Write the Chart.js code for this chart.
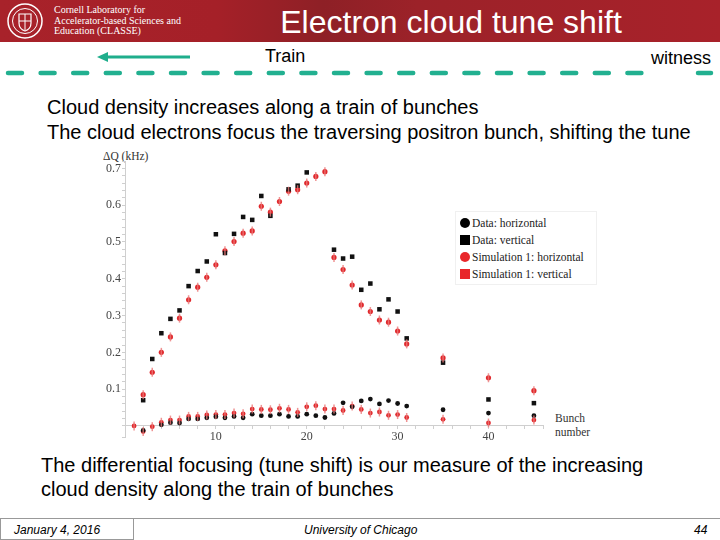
<!DOCTYPE html>
<html>
<head>
<meta charset="utf-8">
<script src="https://cdn.jsdelivr.net/npm/chart.js@4"></script>
<style>
  body { margin: 0; width: 720px; height: 540px; background: #fff; position: relative; overflow: hidden; font-family: "Liberation Sans", Arial, sans-serif; }
  .abs { position: absolute; white-space: nowrap; }
  #header { left: 0; top: 0; width: 720px; height: 42px; background: linear-gradient(90deg, #a8222a 0%, #a52028 30%, #8e2026 45%, #9c2229 58%, #a8222a 100%); }
  .classe { left: 54px; color: #fff; font-family: "Liberation Serif", serif; font-size: 10px; line-height: 10.5px; top: 5px; }
  #title { left: 240px; width: 422px; text-align: center; top: 4px; color: #fff; font-size: 32px; }
  .body20 { font-size: 20px; color: #000; }
  .serif { font-family: "Liberation Serif", serif; color: #333; }
  #legend { left: 455px; top: 211px; width: 140px; height: 72px; background: #fff; border: 1px solid #f0f0f0; font-family: "Liberation Serif", serif; font-size: 11.5px; color: #222; }
  .leg { position: absolute; left: 4px; height: 16px; line-height: 16px; }
  .sym { display: inline-block; width: 10px; height: 10px; vertical-align: -1px; margin-right: 2px; }
  .footer { font-size: 12px; font-style: italic; color: #000; top: 523px; }
</style>
</head>
<body>
<div id="header" class="abs"></div>
<svg class="abs" style="left:5px;top:1px" width="42" height="40">
  <circle cx="20" cy="20" r="17" fill="none" stroke="#fff" stroke-width="1.5"/>
  <circle cx="20" cy="20" r="12.5" fill="none" stroke="#fff" stroke-width="1"/>
  <path d="M14 13 L26 13 L26 22 Q26 28 20 30 Q14 28 14 22 Z" fill="none" stroke="#fff" stroke-width="1.2"/>
  <line x1="20" y1="13" x2="20" y2="29" stroke="#fff" stroke-width="1"/>
  <line x1="14" y1="20" x2="26" y2="20" stroke="#fff" stroke-width="1"/>
</svg>
<div class="abs classe">Cornell Laboratory for<br>Accelerator-based Sciences and<br>Education (CLASSE)</div>
<div id="title" class="abs">Electron cloud tune shift</div>

<svg class="abs" style="left:0;top:44px" width="720" height="40">
  <line x1="104" y1="13" x2="190" y2="13" stroke="#1fae8c" stroke-width="3"/>
  <polygon points="97,13 108,8 108,18" fill="#1fae8c"/>
  <line x1="8" y1="29" x2="646" y2="29" stroke="#22b090" stroke-width="4.5" stroke-linecap="round" stroke-dasharray="14 18.6"/>
  <line x1="698" y1="29" x2="711" y2="29" stroke="#22b090" stroke-width="4.5" stroke-linecap="round"/>
</svg>
<div class="abs" style="left:265px;top:46px;font-size:18px">Train</div>
<div class="abs" style="left:651px;top:48px;font-size:18px">witness</div>

<div class="abs body20" style="left:47px;top:96px">Cloud density increases along a train of bunches</div>
<div class="abs body20" style="left:47px;top:121px">The cloud electrons focus the traversing positron bunch, shifting the tune</div>

<div class="abs serif" style="left:103px;top:150px;font-size:11.5px">ΔQ (kHz)</div>
<div class="abs" style="left:95px;top:150px;width:454px;height:300px"><canvas id="chart"></canvas></div>
<div class="abs serif" style="left:555px;top:411px;font-size:11.5px;line-height:14px">Bunch<br>number</div>

<div id="legend" class="abs">
  <div class="leg" style="top:3px"><span class="sym" style="background:#000;border-radius:50%"></span>Data: horizontal</div>
  <div class="leg" style="top:20px"><span class="sym" style="background:#000"></span>Data: vertical</div>
  <div class="leg" style="top:37px"><span class="sym" style="background:#e8262a;border-radius:50%"></span>Simulation 1: horizontal</div>
  <div class="leg" style="top:54px"><span class="sym" style="background:#e8262a"></span>Simulation 1: vertical</div>
</div>

<div class="abs body20" style="left:41px;top:454px">The differential focusing (tune shift) is our measure of the increasing</div>
<div class="abs body20" style="left:41px;top:478px">cloud density along the train of bunches</div>

<div class="abs" style="left:0;top:518px;width:720px;height:1px;background:#999"></div>
<div class="abs" style="left:0;top:518px;width:132px;height:21px;border:1px solid #999;border-top:none"></div>
<div class="abs footer" style="left:14px">January 4, 2016</div>
<div class="abs footer" style="left:304px">University of Chicago</div>
<div class="abs footer" style="left:694px">44</div>

<script>
// bunch numbers along the train
const bunches = [1, 2, 3, 4, 5, 6, 7, 8, 9, 10, 11, 12, 13, 14, 15, 16, 17, 18, 19, 20,
  21, 22, 23, 24, 25, 26, 27, 28, 29, 30, 31, 35, 40, 45];

// tune shift in kHz
const dataHoriz = [null, -0.012, null, 0.003, 0.009, 0.008, 0.019, 0.019, 0.022, 0.025,
  0.022, 0.026, 0.022, 0.032, 0.028, 0.028, 0.032, 0.026, 0.026, 0.032,
  0.028, 0.023, 0.034, 0.063, 0.052, 0.068, 0.073, 0.060, 0.069, 0.061, 0.054, 0.044, 0.035, 0.028];
const dataVert = [null, 0.070, 0.182, 0.252, 0.291, 0.314, 0.380, 0.421, 0.447, 0.521,
  0.470, 0.522, 0.568, 0.560, 0.625, 0.571, null, 0.643, 0.653, 0.689,
  null, null, 0.479, 0.455, 0.460, 0.370, 0.387, 0.317, 0.344, 0.311, 0.238, 0.172, 0.072, 0.062];
const simHoriz = [0, -0.015, -0.002, 0.010, 0.016, 0.016, 0.026, 0.026, 0.030, 0.031,
  0.031, 0.035, 0.033, 0.046, 0.045, 0.044, 0.048, 0.045, 0.037, 0.052,
  0.055, 0.046, 0.046, 0.042, 0.054, 0.045, 0.035, 0.038, 0.029, 0.031, 0.023, 0.018, 0.008, 0.016];
const simVert = [null, 0.085, 0.146, 0.200, 0.242, 0.293, 0.343, 0.377, 0.404, 0.438,
  0.476, 0.501, 0.524, 0.530, 0.597, 0.581, 0.610, 0.638, 0.642, 0.660,
  0.678, 0.691, 0.458, 0.425, 0.383, 0.329, 0.311, 0.288, 0.282, 0.258, 0.223, 0.185, 0.131, 0.096];

const yTicks = [0.1, 0.2, 0.3, 0.4, 0.5, 0.6, 0.7];
const xTicks = [10, 20, 30, 40];

function pts(arr) {
  return bunches.map((b, i) => ({x: b, y: arr[i]})).filter(p => p.y !== null);
}

const RED = '#e0282c';
const serif = {family: 'Liberation Serif', size: 12};

new Chart(document.getElementById('chart'), {
  type: 'scatter',
  data: {
    datasets: [
      {label: 'err h', data: pts(simHoriz), pointStyle: 'line', rotation: 90, pointRadius: 4.5,
        borderColor: 'rgba(235,120,120,0.8)', borderWidth: 1.5},
      {label: 'err v', data: pts(simVert), pointStyle: 'line', rotation: 90, pointRadius: 4.5,
        borderColor: 'rgba(235,120,120,0.8)', borderWidth: 1.5},
      {label: 'Data: horizontal', data: pts(dataHoriz), pointStyle: 'circle', pointRadius: 2.4,
        backgroundColor: '#111', borderWidth: 0},
      {label: 'Data: vertical', data: pts(dataVert), pointStyle: 'rect', pointRadius: 3.2,
        backgroundColor: '#111', borderWidth: 0},
      {label: 'Simulation 1: horizontal', data: pts(simHoriz), pointStyle: 'circle', pointRadius: 2.4,
        backgroundColor: RED, borderWidth: 0},
      {label: 'Simulation 1: vertical', data: pts(simVert), pointStyle: 'circle', pointRadius: 2.6,
        backgroundColor: RED, borderWidth: 0}
    ]
  },
  options: {
    responsive: true,
    maintainAspectRatio: false,
    animation: false,
    layout: {padding: {top: 11, bottom: 13, left: 0, right: 0}},
    plugins: {legend: {display: false}, tooltip: {enabled: false}},
    scales: {
      x: {
        type: 'linear', min: 0, max: 46,
        position: {y: 0},
        border: {color: '#cfcfcf'},
        grid: {drawOnChartArea: false, tickLength: 3, color: '#cfcfcf'},
        ticks: {
          stepSize: 2, autoSkip: false, maxRotation: 0, padding: 1,
          font: serif, color: '#444',
          callback: v => xTicks.includes(Math.round(v)) && Math.abs(v - Math.round(v)) < 1e-6 ? String(Math.round(v)) : ''
        }
      },
      y: {
        min: -0.03, max: 0.72,
        border: {color: '#cfcfcf'},
        grid: {drawOnChartArea: false, tickLength: 3, color: '#cfcfcf'},
        afterFit: s => { s.width = 30; },
        ticks: {
          stepSize: 0.02, autoSkip: false, padding: 1, maxTicksLimit: 100,
          font: serif, color: '#444',
          callback: v => {
            const t = yTicks.find(k => Math.abs(k - v) < 1e-6);
            return t !== undefined ? t.toFixed(1) : '';
          }
        }
      }
    }
  }
});
</script>
</body>
</html>
